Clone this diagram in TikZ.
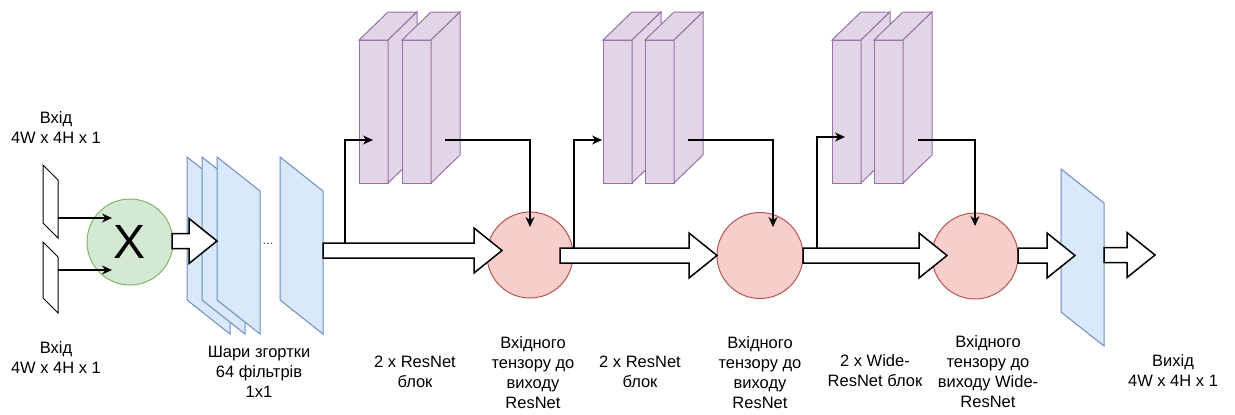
\documentclass[tikz,border=0pt]{standalone}
\usepackage{fontspec}
\setmainfont{Liberation Sans}
\usetikzlibrary{arrows.meta,calc}
\definecolor{gfill}{HTML}{D5E8D4}\definecolor{gline}{HTML}{82B366}
\definecolor{bfill}{HTML}{DAE8FC}\definecolor{bline}{HTML}{6C8EBF}
\definecolor{pfill}{HTML}{E1D5E7}\definecolor{pline}{HTML}{9673A6}
\definecolor{rfill}{HTML}{F8CECC}\definecolor{rline}{HTML}{B85450}
\tikzset{
  lbl/.style={font=\fontsize{16.5}{20}\selectfont, align=center, inner sep=0pt},
  conn/.style={draw=black, line width=1.2pt, -{Stealth[length=10pt,width=9pt]}},
  barr/.style={draw=black, fill=white, line width=1.5pt, line join=miter},
  planebox/.style={draw=bline, fill=bfill, line width=1pt},
  cubebox/.style={draw=pline, fill=pfill, line width=1pt},
  inbox/.style={draw=black, fill=white, line width=1pt},
  addc/.style={circle, draw=rline, fill=rfill, line width=1pt, minimum size=86pt, inner sep=0pt},
}
% plane: name, left x, top y
\newcommand{\drawplane}[3]{%
  \draw[planebox] (#2,#3) -- (#2+43,#3+34) -- (#2+43,#3+177) -- (#2,#3+143) -- cycle;
  \coordinate (#1) at (#2+21.5,#3+88.5);}
% cuboid: left x of front face
\newcommand{\drawcube}[1]{%
  \draw[cubebox] (#1,40) rectangle (#1+29,183);
  \draw[cubebox] (#1,40) -- (#1+29,12) -- (#1+58,12) -- (#1+29,40) -- cycle;
  \draw[cubebox] (#1+29,40) -- (#1+58,12) -- (#1+58,155) -- (#1+29,183) -- cycle;}
% block arrow from start to tip
\newcommand{\blockarr}[2]{%
  \draw[barr] let \p1=(#1), \p2=(#2) in
    (\x1,\y1+7.5pt) -- (\x2-28pt,\y1+7.5pt) -- (\x2-28pt,\y1+22.5pt) -- (\x2,\y1)
    -- (\x2-28pt,\y1-22.5pt) -- (\x2-28pt,\y1-7.5pt) -- (\x1,\y1-7.5pt) -- cycle;}
\begin{document}
\begin{tikzpicture}[x=1pt,y=-1pt]
\useasboundingbox (0,0) rectangle (1235,415);
% inputs
\draw[inbox] (43,165) -- (58,180) -- (58,238) -- (43,223) -- cycle;
\draw[inbox] (43,242) -- (58,257) -- (58,313) -- (43,298) -- cycle;
\node[lbl] (inlblA) at (56,128) {Вхід\\4W x 4H x 1};
\node[lbl] (inlblB) at (56,358) {Вхід\\4W x 4H x 1};
% multiply
\node[circle, draw=gline, fill=gfill, line width=1pt, minimum size=86pt, inner sep=0pt,
      font=\fontsize{48}{48}\selectfont] (g) at (130,242) {X};
\coordinate (inA1) at (58,218); \coordinate (inA2) at (112,218);
\coordinate (inB1) at (58,270); \coordinate (inB2) at (112,270);
\draw[conn] (inA1) -- (inA2);
\draw[conn] (inB1) -- (inB2);
% conv planes
\drawplane{pA}{187}{157}
\drawplane{pB}{202}{157}
\drawplane{pC}{217}{157}
\node[font=\fontsize{13}{13}\selectfont, text=black!70] (dots) at (268,244) {...};
\drawplane{pD}{280}{157}
\node[lbl] (convlbl) at (259,372) {Шари згортки\\64 фільтрів\\1x1};
% ResNet cubes
\drawcube{359}\drawcube{402}
\drawcube{603}\drawcube{645}
\drawcube{832}\drawcube{874}
% add circles
\node[addc] (r1) at (530,255) {};
\node[addc] (r2) at (760,255.5) {};
\node[addc] (r3) at (975,256) {};
% final plane
\drawplane{pE}{1061}{169}
% block arrows
\coordinate (a1s) at (172,241); \coordinate (a1e) at (217,241);
\coordinate (a2s) at (323,250.5); \coordinate (a2e) at (502,250.5);
\coordinate (a3s) at (560,255.5); \coordinate (a3e) at (717,255.5);
\coordinate (a4s) at (803,255.5); \coordinate (a4e) at (947,255.5);
\coordinate (a5s) at (1018,255.5); \coordinate (a5e) at (1075,255.5);
\coordinate (a6s) at (1104,255); \coordinate (a6e) at (1155,255);
\blockarr{a1s}{a1e}
\blockarr{a2s}{a2e}
\blockarr{a3s}{a3e}
\blockarr{a4s}{a4e}
\blockarr{a5s}{a5e}
\blockarr{a6s}{a6e}
% skip connections
\coordinate (b1s) at (345,243); \coordinate (c1in) at (373,140);
\coordinate (c1out) at (445,140); \coordinate (r1in) at (530,227);
\coordinate (b2s) at (574,248); \coordinate (c2in) at (602,140);
\coordinate (c2out) at (688,140); \coordinate (r2in) at (773,227);
\coordinate (b3s) at (817,248); \coordinate (c3in) at (845,137);
\coordinate (c3out) at (918,140); \coordinate (r3in) at (975,226);
\draw[conn] (b1s) |- (c1in);
\draw[conn] (c1out) -| (r1in);
\draw[conn] (b2s) |- (c2in);
\draw[conn] (c2out) -| (r2in);
\draw[conn] (b3s) |- (c3in);
\draw[conn] (c3out) -| (r3in);
% labels
\node[lbl] (l1) at (415,372) {2 x ResNet\\блок};
\node[lbl] (l2) at (533,373) {Вхідного\\тензору до\\виходу\\ResNet};
\node[lbl] (l3) at (640,372) {2 x ResNet\\блок};
\node[lbl] (l4) at (760,373) {Вхідного\\тензору до\\виходу\\ResNet};
\node[lbl] (l5) at (875,371) {2 x Wide-\\ResNet блок};
\node[lbl] (l6) at (988,372) {Вхідного\\тензору до\\виходу Wide-\\ResNet};
\node[lbl] (l7) at (1173,371) {Вихід\\4W x 4H x 1};
\end{tikzpicture}
\end{document}
